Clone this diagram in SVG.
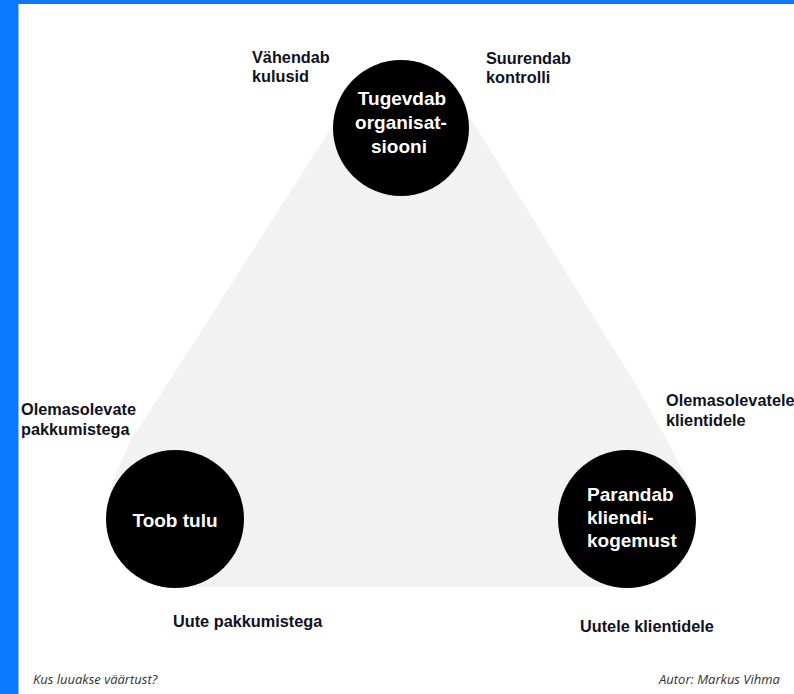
<svg xmlns="http://www.w3.org/2000/svg" width="794" height="694" viewBox="0 0 794 694">
  <style>
    .lbl { font-family: "Liberation Sans", Arial, sans-serif; font-weight: bold; font-size: 16.3px; fill: #111122; }
    .ctxt { font-family: "Liberation Sans", Arial, sans-serif; font-weight: bold; font-size: 19px; fill: #ffffff; }
    .foot { font-family: "Open Sans", "Liberation Sans", sans-serif; font-style: italic; font-size: 13px; fill: #333333; }
    .node { fill: #000000; }
  </style>
  <rect x="0" y="0" width="794" height="694" fill="#ffffff"/>
  <rect x="0" y="0" width="794" height="4" fill="#0a78ff"/>
  <rect x="0" y="0" width="18.5" height="694" fill="#0a78ff"/>

  <g id="connectors">
    <polygon points="349,100 459,100 633,380 667,440 687,480 696,512 640,540 627,587 175,587 150,540 106,512 113,480 131,440 170,380" fill="#f2f2f2"/>
  </g>

  <g id="node-top">
    <circle class="node" cx="401" cy="128" r="68"/>
    <text class="ctxt" text-anchor="middle"><tspan x="402" y="105">Tugevdab</tspan><tspan x="401" y="129">organisat-</tspan><tspan x="399" y="153">siooni</tspan></text>
  </g>
  <g id="node-left">
    <circle class="node" cx="175" cy="519" r="69"/>
    <text class="ctxt" x="175" y="527" text-anchor="middle">Toob tulu</text>
  </g>
  <g id="node-right">
    <circle class="node" cx="627" cy="519" r="69"/>
    <text class="ctxt"><tspan x="587" y="501">Parandab</tspan><tspan x="587" y="524">kliendi-</tspan><tspan x="587" y="547">kogemust</tspan></text>
  </g>

  <g id="labels">
    <text class="lbl"><tspan x="252" y="62.5">Vähendab</tspan><tspan x="252" y="81.5">kulusid</tspan></text>
    <text class="lbl"><tspan x="486" y="64">Suurendab</tspan><tspan x="486" y="83">kontrolli</tspan></text>
    <text class="lbl"><tspan x="21" y="415">Olemasolevate</tspan><tspan x="21" y="435">pakkumistega</tspan></text>
    <text class="lbl"><tspan x="666" y="406">Olemasolevatele</tspan><tspan x="666" y="426">klientidele</tspan></text>
    <text class="lbl" x="173" y="627">Uute pakkumistega</text>
    <text class="lbl" x="580" y="632">Uutele klientidele</text>
  </g>

  <g id="footer">
    <text class="foot" x="33" y="684">Kus luuakse väärtust?</text>
    <text class="foot" x="659" y="684">Autor: Markus Vihma</text>
  </g>
</svg>
